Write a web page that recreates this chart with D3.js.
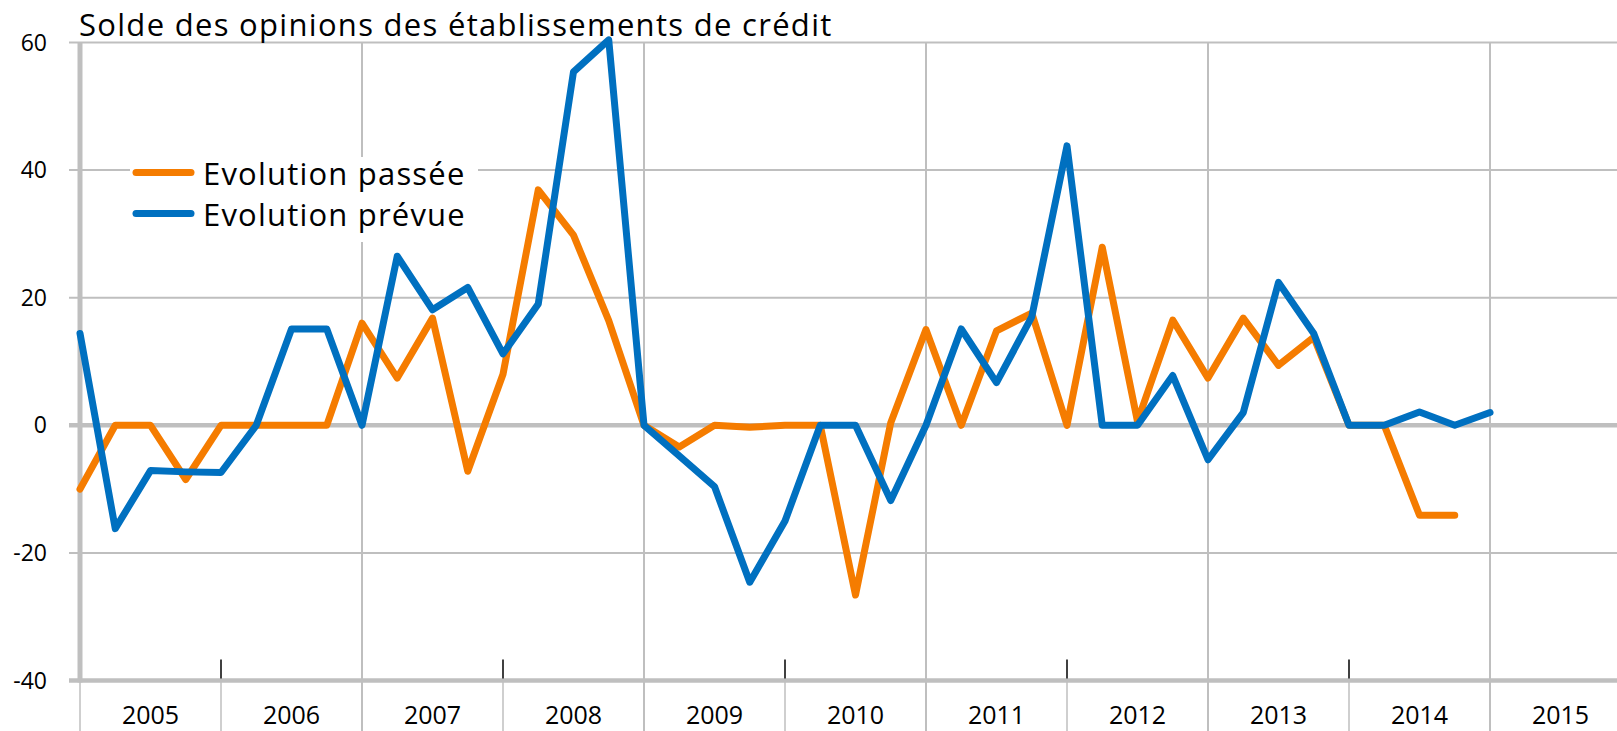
<!DOCTYPE html>
<html>
<head>
<meta charset="utf-8">
<script src="https://cdn.jsdelivr.net/npm/d3@7"></script>
<style>
  body { margin: 0; background: #fff; }
  svg { display: block; font-family: "Open Sans", Lato, sans-serif; }
</style>
</head>
<body>
<script>
// quarterly balance of opinions, 2005 Q1 onwards
var years = ["2005", "2006", "2007", "2008", "2009", "2010", "2011", "2012", "2013", "2014", "2015"];
var yTicks = [-40, -20, 0, 20, 40, 60];

var passee = [
  -10, 0, 0, -8.5,
  0, 0, 0, 0,
  16, 7.4, 16.8, -7.2,
  8, 36.9, 29.8, 16.4,
  0, -3.4, 0, -0.3,
  0, 0, -26.6, 0.4,
  15, 0, 14.8, 17.6,
  0, 27.9, 0.6, 16.5,
  7.4, 16.8, 9.4, 13.8,
  0, 0, -14.1, -14.1
];

var prevue = [
  14.4, -16.2, -7.1, -7.3,
  -7.4, 0, 15.1, 15.1,
  0, 26.5, 18.1, 21.6,
  11.2, 19, 55.4, 60.4,
  0, -4.8, -9.6, -24.6,
  -15, 0, 0, -11.8,
  0, 15.1, 6.7, 17,
  43.8, 0, 0, 7.8,
  -5.4, 2, 22.4, 14.4,
  0, 0, 2.1, 0,
  2
];

var series = [
  { name: "Evolution passée", values: passee, color: "#f57c00" },
  { name: "Evolution prévue", values: prevue, color: "#0070c0" }
];

var width = 1617, height = 731;
var grid = "#bfbfbf";

var svg = d3.select("body").append("svg")
  .attr("width", width)
  .attr("height", height);

// one unit per quarter, year boundaries every 4
var x = d3.scaleLinear().domain([0, 44]).range([80, 80 + 44 * 35.25]);
var y = d3.scaleLinear().domain([-40, 60]).range([680.5, 42.5]);

var bounds = d3.range(0, 44, 4);

// horizontal grid
svg.append('g')
  .selectAll('line')
  .data(yTicks)
  .enter()
  .append('line')
  .attr('x1', 69)
  .attr('x2', width)
  .attr('y1', d => y(d))
  .attr('y2', d => y(d))
  .attr('stroke', grid)
  .attr('stroke-width', d => (d == 0 || d == -40) ? 4.5 : 2);

// full height gridlines on odd years
svg.append('g')
  .selectAll('line')
  .data(bounds.filter(b => b > 0 && (b / 4) % 2 == 0))
  .enter()
  .append('line')
  .attr('x1', d => x(d))
  .attr('x2', d => x(d))
  .attr('y1', y(60))
  .attr('y2', height)
  .attr('stroke', grid)
  .attr('stroke-width', 2);

// label separators under the axis
svg.append('g')
  .selectAll('line')
  .data(bounds)
  .enter()
  .append('line')
  .attr('x1', d => x(d))
  .attr('x2', d => x(d))
  .attr('y1', y(-40))
  .attr('y2', height)
  .attr('stroke', grid)
  .attr('stroke-width', 1.5);

// small black ticks on even years
svg.append('g')
  .selectAll('line')
  .data(bounds.filter(b => (b / 4) % 2 == 1))
  .enter()
  .append('line')
  .attr('x1', d => x(d))
  .attr('x2', d => x(d))
  .attr('y1', y(-40) - 21)
  .attr('y2', y(-40) - 2)
  .attr('stroke', '#000')
  .attr('stroke-width', 1.5);

// y axis
svg.append('line')
  .attr('x1', x(0)).attr('x2', x(0))
  .attr('y1', y(60)).attr('y2', y(-40) + 2)
  .attr('stroke', grid)
  .attr('stroke-width', 5);

svg.append('g')
  .selectAll('text')
  .data(yTicks)
  .enter()
  .append('text')
  .text(d => d)
  .attr('x', 47)
  .attr('y', d => y(d))
  .attr('dy', '0.35em')
  .attr('text-anchor', 'end')
  .style('font-size', '23px');

svg.append('g')
  .selectAll('text')
  .data(years)
  .enter()
  .append('text')
  .text(d => d)
  .attr('x', (d, i) => x(i * 4 + 2))
  .attr('y', 724)
  .attr('text-anchor', 'middle')
  .style('font-size', '25px');

// title
svg.append('text')
  .text("Solde des opinions des établissements de crédit")
  .attr('x', 79)
  .attr('y', 36)
  .style('font-size', '31px')
  .style('letter-spacing', '1.3px');

// legend box hides the grid behind it
svg.append('rect')
  .attr('x', 130).attr('y', 157)
  .attr('width', 348).attr('height', 85)
  .attr('fill', '#fff');

var line = d3.line()
  .x((d, i) => x(i))
  .y(d => y(d));

svg.append('g')
  .selectAll('path')
  .data(series)
  .enter()
  .append('path')
  .attr('d', d => line(d.values))
  .attr('fill', 'none')
  .attr('stroke', d => d.color)
  .attr('stroke-width', 7)
  .attr('stroke-linejoin', 'round')
  .attr('stroke-linecap', 'round');

var legend = svg.append('g')
  .selectAll('g')
  .data(series)
  .enter()
  .append('g')
  .attr('transform', (d, i) => `translate(0,${172.5 + i * 41})`);

legend.append('line')
  .attr('x1', 136).attr('x2', 191)
  .attr('stroke', d => d.color)
  .attr('stroke-width', 7)
  .attr('stroke-linecap', 'round');

legend.append('text')
  .text(d => d.name)
  .attr('x', 203)
  .attr('y', 12)
  .style('font-size', '31px')
  .style('letter-spacing', '1.2px');
</script>
</body>
</html>
